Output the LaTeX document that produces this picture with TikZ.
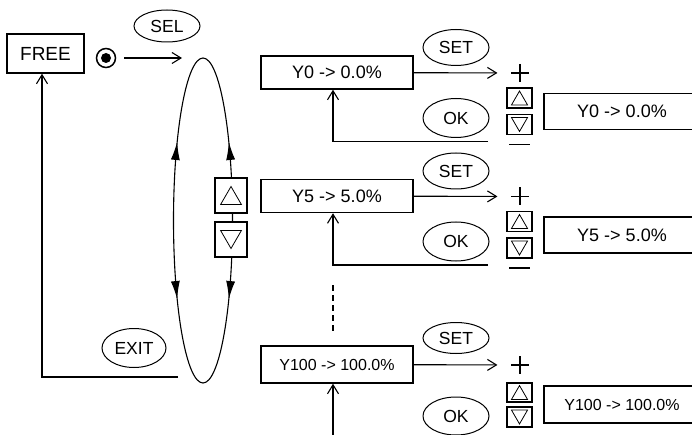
\documentclass[tikz,border=0pt]{standalone}
\usepackage{fontspec}
\setmainfont{Liberation Sans}
\usetikzlibrary{positioning,shapes.geometric,arrows.meta,decorations.markings}
\tikzset{
	valbox/.style={draw, line width=1.5pt, minimum width=152, minimum height=33, inner sep=0, font=\fontsize{18}{21}\selectfont},
	showbox/.style={valbox, minimum width=156, minimum height=36},
	keyoval/.style={ellipse, draw, line width=1pt, minimum width=66, minimum height=36, inner sep=0, font=\fontsize{17.5}{20}\selectfont},
	btn/.style={draw, line width=1.5pt, minimum width=25, minimum height=20, inner sep=0},
	bigbtn/.style={btn, fill=white, minimum width=32, minimum height=35},
	tri/.style={regular polygon, regular polygon sides=3, draw, line width=0.8pt, inner sep=0, minimum size=#1},
	tridn/.style={tri=#1, regular polygon rotate=180},
	plussign/.style={minimum size=18, inner sep=0, path picture={\draw[line width=1.6pt] (path picture bounding box.west) -- (path picture bounding box.east) (path picture bounding box.north) -- (path picture bounding box.south);}},
	minussign/.style={fill, minimum width=21, minimum height=1.8, inner sep=0},
	looptip/.tip={Latex[length=18pt,width=9pt]},
	looparrows/.style={postaction={decorate}, decoration={markings,
		mark=at position 0.116 with {\arrow{looptip}},
		mark=at position 0.384 with {\arrowreversed{looptip}},
		mark=at position 0.616 with {\arrow{looptip}},
		mark=at position 0.884 with {\arrowreversed{looptip}}}}
}

\begin{document}
\begin{tikzpicture}[x=1pt, y=-1pt, line width=1.1pt, >={Straight Barb[length=9pt,width=11pt]}, font=\fontsize{17.5}{20}\selectfont]
	\useasboundingbox (0,0) rectangle (692,435);
	
	\node[draw, line width=1.5pt, minimum width=77, minimum height=39, font=\fontsize{19}{22}\selectfont] (free) at (45.5,53.5) {FREE};
	\node[circle, draw, line width=1.5pt, minimum size=19, inner sep=0, path picture={\fill (path picture bounding box.center) circle (5pt);}] (radio) at (106,58) {};
	\coordinate (selend) at (182,58);
	\node[keyoval, minimum height=32] (sel) at (167,26) {SEL};
	\draw[->, shorten <=8pt] (radio) -- (selend);
	
	\draw[looparrows] (203,220.5) ellipse [x radius=29.5pt, y radius=162.5pt];
	\node[bigbtn] (bigup) at (231,195.5) {};
	\node[tri=24, yshift=-3pt] (bigupt) at (bigup) {};
	\node[bigbtn] (bigdn) at (231,239.5) {};
	\node[tridn=24, yshift=3pt] (bigdnt) at (bigdn) {};
	
	\node[keyoval, minimum width=64, minimum height=39] (exit) at (134,348) {EXIT};
	\coordinate (exitpt) at (178,377);
	\draw[->] (exitpt) -| ([xshift=-3.5pt]free.south);
	
	\foreach \r/\t/\yb in {0/0.0/72.5, 5/5.0/196} {
		\node[valbox] (y\r) at (337,\yb) {Y\r{} -> \t\%};
		\node[keyoval] (set\r) at (456,\yb-25) {SET};
		\node[plussign] (plus\r) at (520,\yb+0.5) {};
		\node[btn] (up\r) at (519.5,\yb+25.5) {};
		\node[tri=18.5, yshift=-2.3pt] (up\r t) at (up\r) {};
		\node[btn] (dn\r) at (519.5,\yb+52) {};
		\node[tridn=18.5, yshift=2.3pt] (dn\r t) at (dn\r) {};
		\node[showbox] (show\r) at (622,\yb+39) {Y\r{} -> \t\%};
		\node[keyoval, minimum height=39] (ok\r) at (456,\yb+45.5) {OK};
		\node[minussign] (minus\r) at (519.5,\yb+72) {};
		\coordinate (ret\r) at (488,\yb+69);
		\draw[->, shorten >=13pt] (y\r) -- (plus\r);
		\draw[->] (ret\r) -| ([xshift=-4pt]y\r.south);
	}
	
	\coordinate (dashtop) at (333,285);
	\coordinate (dashbot) at (333,332);
	\draw[dash pattern=on 6pt off 4pt] (dashtop) -- (dashbot);
	
	\node[valbox, minimum height=37, font=\fontsize{16}{19}\selectfont] (y100) at (337,364.5) {Y100 -> 100.0\%};
	\node[keyoval, minimum height=31] (set100) at (456,338) {SET};
	\node[plussign] (plus100) at (520,365) {};
	\node[btn, minimum height=19] (up100) at (519.5,392.5) {};
	\node[tri=18.5, yshift=-2.3pt] (up100t) at (up100) {};
	\node[btn] (dn100) at (519.5,417) {};
	\node[tridn=18.5, yshift=2.3pt] (dn100t) at (dn100) {};
	\node[showbox, minimum height=37, font=\fontsize{16}{19}\selectfont] (show100) at (622,404.5) {Y100 -> 100.0\%};
	\node[keyoval, minimum height=38] (ok100) at (456,416) {OK};
	\coordinate (bot100) at (333,440);
	\draw[->, shorten >=13pt] (y100) -- (plus100);
	\draw[->] (bot100) -- ([xshift=-4pt]y100.south);
\end{tikzpicture}
\end{document}
